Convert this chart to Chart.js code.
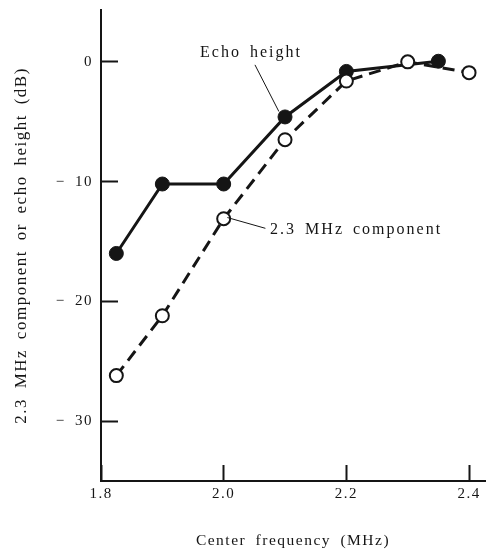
<!DOCTYPE html>
<html>
<head>
<meta charset="utf-8">
<script src="https://cdn.jsdelivr.net/npm/chart.js@4.4.1/dist/chart.umd.min.js"></script>
<style>
  html, body { margin: 0; padding: 0; background: #fff; }
  #wrap { width: 487px; height: 552px; }
</style>
</head>
<body>
<div id="wrap"><canvas id="c"></canvas></div>
<script>
// Measured curves: echo height and the 2.3 MHz spectral component versus probe center frequency
const echoFreq   = [1.825, 1.9, 2.0, 2.1, 2.2, 2.35];
const echoHeight = [-16.0, -10.2, -10.2, -4.6, -0.8, 0.05];
const compFreq   = [1.825, 1.9, 2.0, 2.1, 2.2, 2.3, 2.4];
const compLevel  = [-26.2, -21.2, -13.1, -6.5, -1.6, 0.0, -0.9];

const xTicks = [1.8, 2.0, 2.2, 2.4];
const yTicks = [0, -10, -20, -30];

const xTitle = 'Center frequency (MHz)';
const yTitle = '2.3 MHz component or echo height (dB)';
const echoLabel = 'Echo height';
const compLabel = '2.3 MHz component';

const INK = '#151515';
const SERIF = '"Liberation Serif", "Times New Roman", serif';

const toPoints = (xs, ys) => xs.map((x, i) => ({ x, y: ys[i] }));

// Loosely spaced typesetting for all canvas text
const typeset = {
  id: 'typeset',
  beforeDraw(chart) {
    chart.ctx.letterSpacing = '1.5px';
    chart.ctx.wordSpacing = '4px';
  }
};

// Curve labels with thin leader lines, placed in data coordinates
const curveLabels = {
  id: 'curveLabels',
  afterDatasetsDraw(chart) {
    const { ctx, scales: { x, y } } = chart;
    const px = v => x.getPixelForValue(v);
    const py = v => y.getPixelForValue(v);
    ctx.save();
    ctx.strokeStyle = INK;
    ctx.lineWidth = 1;
    ctx.beginPath();
    ctx.moveTo(px(2.051), py(-0.25));
    ctx.lineTo(px(2.090), py(-4.15));
    ctx.moveTo(px(2.006), py(-13.0));
    ctx.lineTo(px(2.068), py(-13.9));
    ctx.stroke();
    ctx.fillStyle = INK;
    ctx.font = '16px ' + SERIF;
    ctx.letterSpacing = '2px';
    ctx.wordSpacing = '3px';
    ctx.textAlign = 'left';
    ctx.textBaseline = 'middle';
    ctx.fillText(echoLabel, px(1.9615), py(0.75));
    ctx.fillText(compLabel, px(2.0757), py(-14.0));
    ctx.restore();
  }
};

// Axis boxes take fixed sizes so the plot frame spans the full canvas
const noEdgePadding = s => {
  s.paddingTop = 0;
  s.paddingBottom = 0;
  s.paddingLeft = 0;
  s.paddingRight = 0;
};

new Chart(document.getElementById('c'), {
  type: 'line',
  data: {
    datasets: [
      {
        label: compLabel,
        data: toPoints(compFreq, compLevel),
        borderColor: INK,
        borderWidth: 3,
        borderDash: [12, 7],
        tension: 0,
        pointRadius: 6.5,
        pointBorderWidth: 2,
        pointBackgroundColor: '#fff',
        pointBorderColor: INK
      },
      {
        label: echoLabel,
        data: toPoints(echoFreq, echoHeight),
        borderColor: INK,
        borderWidth: 3,
        tension: 0,
        pointRadius: 7,
        pointBorderWidth: 1,
        pointBackgroundColor: INK,
        pointBorderColor: INK
      }
    ]
  },
  options: {
    responsive: true,
    maintainAspectRatio: false,
    animation: false,
    devicePixelRatio: 1,
    layout: { autoPadding: false, padding: { top: 10, right: 2, left: 0, bottom: 0 } },
    plugins: { legend: { display: false }, tooltip: { enabled: false } },
    scales: {
      x: {
        type: 'linear',
        min: 1.8,
        max: 2.426,
        afterBuildTicks: s => { s.ticks = xTicks.map(v => ({ value: v })); },
        afterFit: s => { s.height = 71; noEdgePadding(s); },
        ticks: {
          autoSkip: false,
          maxRotation: 0,
          padding: 20,
          color: INK,
          font: { family: SERIF, size: 15 },
          callback: v => Number(v).toFixed(1)
        },
        grid: { drawOnChartArea: false, tickLength: -16, tickWidth: 2, tickColor: INK },
        border: { color: INK, width: 2 },
        title: {
          display: true,
          text: xTitle,
          color: INK,
          font: { family: SERIF, size: 15.5 },
          padding: { top: 0, bottom: 2 }
        }
      },
      y: {
        type: 'linear',
        min: -35,
        max: 4.33,
        afterBuildTicks: s => { s.ticks = yTicks.map(v => ({ value: v })); },
        afterFit: s => { s.width = 101; noEdgePadding(s); },
        ticks: {
          padding: 25,
          color: INK,
          font: { family: SERIF, size: 15 },
          callback: v => (v === 0 ? '0' : '\u2212 ' + Math.abs(v))
        },
        grid: { drawOnChartArea: false, tickLength: -17, tickWidth: 2, tickColor: INK },
        border: { color: INK, width: 2 },
        title: {
          display: true,
          text: yTitle,
          color: INK,
          font: { family: SERIF, size: 17 },
          padding: { top: 11, bottom: 0 }
        }
      }
    }
  },
  plugins: [typeset, curveLabels]
});
</script>
</body>
</html>
